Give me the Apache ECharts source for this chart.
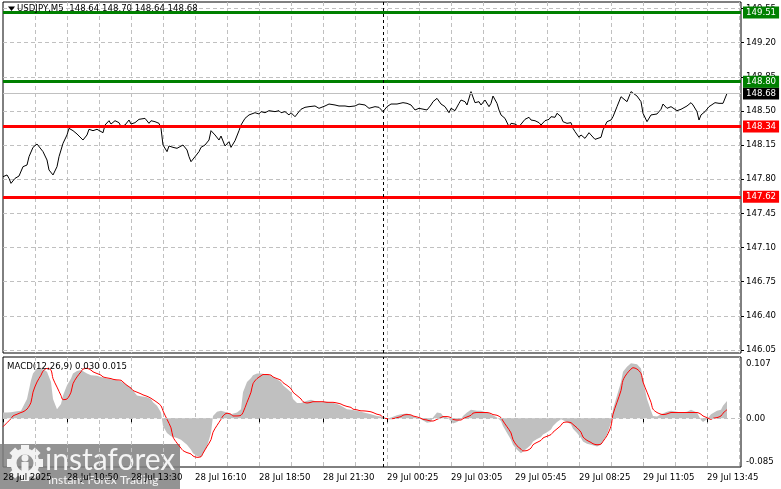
<!DOCTYPE html>
<html><head><meta charset="utf-8">
<script src="https://cdn.jsdelivr.net/npm/echarts@6/dist/echarts.min.js"></script>
<style>html,body{margin:0;padding:0;background:#fff}#c{width:781px;height:489px}</style>
</head><body><div id="c"></div>
<script>
const FONT = "'DejaVu Sans', Tahoma, sans-serif";
const FS = 8.6;
const barCount = 370;
const tickLabels = ['28 Jul 2025','28 Jul 10:50','28 Jul 13:30','28 Jul 16:10','28 Jul 18:50','28 Jul 21:30',
  '29 Jul 00:25','29 Jul 03:05','29 Jul 05:45','29 Jul 08:25','29 Jul 11:05','29 Jul 13:45'];
const titleText = 'USDJPY,M5  148.64 148.70 148.64 148.68';
const macdText = 'MACD(12,26,9) 0.030 0.015';
const resistanceLevels = [149.51, 148.80];
const supportLevels = [148.34, 147.62];
const lastPrice = 148.68;
const separatorBar = 190;
const priceTickMin = 146.05, priceTickMax = 149.55, priceTickStep = 0.35;
const macdMin = -0.085, macdMax = 0.107;

const priceData = [[0,147.826],[2,147.844],[3,147.809],[4,147.758],[6,147.809],[8,147.833],[9,147.826],[10,147.929],[12,147.946],[13,148.031],[15,148.127],[17,148.161],[18,148.141],[20,148.083],[22,147.997],[23,147.895],[25,147.844],[27,147.929],[28,148.031],[30,148.168],[32,148.254],[33,148.322],[35,148.298],[37,148.264],[38,148.243],[40,148.202],[42,148.254],[43,148.312],[45,148.298],[47,148.312],[48,148.322],[50,148.277],[51,148.356],[53,148.400],[54,148.366],[56,148.400],[58,148.380],[59,148.339],[61,148.356],[63,148.407],[64,148.366],[66,148.380],[68,148.414],[69,148.407],[71,148.424],[73,148.373],[74,148.400],[76,148.390],[78,148.373],[79,148.322],[80,148.151],[82,148.083],[83,148.141],[85,148.127],[87,148.117],[88,148.127],[90,148.151],[92,148.100],[93,148.031],[94,147.980],[96,148.031],[98,148.083],[99,148.127],[101,148.151],[103,148.202],[104,148.298],[106,148.254],[108,148.202],[109,148.243],[111,148.141],[113,148.185],[114,148.127],[116,148.195],[118,148.298],[119,148.356],[121,148.424],[123,148.459],[124,148.469],[126,148.482],[128,148.469],[129,148.493],[131,148.482],[133,148.503],[134,148.493],[136,148.493],[138,148.503],[139,148.482],[141,148.493],[143,148.459],[144,148.482],[146,148.441],[148,148.493],[149,148.517],[151,148.537],[153,148.544],[154,148.537],[156,148.551],[158,148.527],[159,148.544],[161,148.551],[163,148.571],[164,148.578],[166,148.561],[168,148.551],[169,148.544],[171,148.551],[173,148.544],[174,148.561],[176,148.551],[178,148.571],[179,148.578],[181,148.561],[183,148.527],[184,148.537],[186,148.544],[188,148.537],[189,148.517],[190,148.493],[192,148.544],[193,148.551],
[194,148.571],[197,148.571],[198,148.578],[200,148.585],[202,148.578],[204,148.561],[206,148.510],[208,148.527],[209,148.517],[212,148.510],[214,148.561],[215,148.595],[217,148.629],[218,148.640],[219,148.571],[221,148.544],[223,148.482],[224,148.527],[226,148.503],[228,148.578],[229,148.612],[231,148.595],[232,148.561],[233,148.544],[234,148.698],[236,148.585],[238,148.595],[239,148.561],[241,148.612],[243,148.544],[244,148.578],[245,148.653],[247,148.578],[248,148.510],[249,148.459],[251,148.424],[253,148.339],[254,148.373],[256,148.366],[258,148.339],[259,148.356],[261,148.414],[263,148.435],[264,148.407],[266,148.400],[268,148.380],[269,148.356],[271,148.400],[273,148.414],[274,148.441],[276,148.435],[277,148.476],[279,148.441],[280,148.390],[282,148.373],[284,148.380],[285,148.322],[286,148.288],[288,148.230],[289,148.254],[291,148.219],[293,148.277],[294,148.254],[296,148.209],[297,148.195],[299,148.230],[300,148.305],[302,148.390],[304,148.407],[305,148.441],[307,148.544],[309,148.646],[310,148.664],[312,148.595],[314,148.698],[315,148.681],[317,148.653],[319,148.595],[320,148.476],[322,148.390],[324,148.459],[325,148.469],[327,148.469],[329,148.517],[330,148.571],[332,148.527],[334,148.544],[335,148.561],[337,148.503],[339,148.517],[340,148.503],[342,148.551],[344,148.585],[345,148.561],[347,148.493],[348,148.407],[349,148.459],[351,148.493],[353,148.544],[354,148.561],[356,148.585],[358,148.578],[359,148.585],[360,148.578],[362,148.680]];

const macdHist = [[0,0.0101],[2,0.0101],[4,0.0107],[5,0.0113],[7,0.0124],[9,0.0130],[10,0.0160],[12,0.0338],[14,0.0664],[15,0.0782],[17,0.0871],[19,0.0883],[20,0.0859],[22,0.0812],[24,0.0634],[25,0.0338],[27,0.0160],[28,0.0190],[29,0.0249],[30,0.0397],[32,0.0575],[34,0.0693],[35,0.0782],[37,0.0824],[39,0.0841],[40,0.0824],[42,0.0782],[44,0.0753],[45,0.0764],[47,0.0741],[49,0.0723],[50,0.0705],[52,0.0693],[54,0.0681],[55,0.0664],[57,0.0664],[59,0.0646],[60,0.0634],[62,0.0575],[64,0.0527],[65,0.0486],[67,0.0397],[69,0.0385],[70,0.0397],[72,0.0367],[74,0.0338],[75,0.0279],[77,0.0219],[79,0.0101],[80,-0.0136],[82,-0.0255],[84,-0.0314],[85,-0.0344],[87,-0.0344],[89,-0.0373],[90,-0.0403],[92,-0.0462],[94,-0.0551],[95,-0.0610],[97,-0.0658],[99,-0.0681],[100,-0.0670],[102,-0.0492],[104,-0.0255],[105,0.0041],[107,0.0113],[109,0.0130],[110,0.0148],[112,0.0101],[114,0.0071],[115,0.0071],[117,0.0101],[119,0.0160],[120,0.0456],[122,0.0634],[124,0.0705],[125,0.0753],[127,0.0782],[129,0.0782],[130,0.0776],[132,0.0764],[134,0.0741],[135,0.0723],[137,0.0681],[139,0.0634],[140,0.0575],[142,0.0516],[144,0.0456],[145,0.0338],[147,0.0267],[149,0.0267],[150,0.0279],[152,0.0308],[154,0.0326],[155,0.0308],[157,0.0290],[159,0.0279],[160,0.0279],[162,0.0290],[164,0.0279],[165,0.0267],[167,0.0249],[169,0.0219],[170,0.0190],[172,0.0160],[174,0.0148],[175,0.0130],[177,0.0130],[179,0.0113],[180,0.0101],[182,0.0089],[184,0.0071],[185,0.0053],[187,0.0041],
[189,0.0030],[190,0.0012],[192,-0.0006],[194,0.0012],[195,0.0041],[197,0.0053],[199,0.0071],[200,0.0089],[202,0.0083],[204,0.0053],[205,0.0041],[207,0.0012],[209,-0.0018],[210,-0.0047],[212,-0.0077],[214,-0.0065],[215,0.0012],[217,0.0101],[219,0.0089],[220,0.0041],[222,0.0012],[224,-0.0047],[225,-0.0089],[227,-0.0065],[229,-0.0018],[230,0.0041],[232,0.0101],[234,0.0148],[235,0.0148],[237,0.0130],[239,0.0130],[240,0.0113],[242,0.0101],[244,0.0071],[245,0.0053],[247,0.0012],[249,-0.0047],[250,-0.0136],[252,-0.0255],[254,-0.0373],[255,-0.0462],[257,-0.0551],[259,-0.0610],[260,-0.0581],[262,-0.0521],[264,-0.0462],[265,-0.0403],[267,-0.0361],[269,-0.0326],[270,-0.0284],[272,-0.0243],[274,-0.0196],[275,-0.0136],[277,-0.0065],[279,-0.0018],[280,-0.0018],[282,-0.0065],[284,-0.0107],[285,-0.0184],[287,-0.0255],[289,-0.0344],[290,-0.0403],[292,-0.0444],[294,-0.0462],[295,-0.0480],[297,-0.0492],[299,-0.0462],[300,-0.0403],[302,-0.0284],[304,-0.0077],[305,0.0160],[307,0.0397],[309,0.0634],[310,0.0812],[312,0.0901],[314,0.0960],[315,0.0978],[317,0.0942],[319,0.0871],[320,0.0664],[322,0.0338],[324,0.0130],[325,0.0041],[327,0.0030],[329,0.0071],[330,0.0101],[332,0.0113],[334,0.0130],[335,0.0130],[337,0.0113],[339,0.0101],[340,0.0101],[342,0.0113],[344,0.0148],[345,0.0148],[347,0.0101],[349,-0.0030],[350,-0.0065],[352,-0.0018],[354,0.0071],[355,0.0101],[357,0.0130],[359,0.0148],[360,0.0219],[362,0.0300]];

const macdSignal = [[0,-0.0148],[2,-0.0077],[4,-0.0006],[5,0.0041],[7,0.0071],[9,0.0101],[10,0.0113],[12,0.0160],[14,0.0279],[15,0.0456],[17,0.0634],[19,0.0753],[20,0.0824],[22,0.0871],[24,0.0841],[25,0.0693],[27,0.0545],[29,0.0397],[30,0.0326],[32,0.0338],[34,0.0456],[35,0.0604],[37,0.0723],[39,0.0812],[40,0.0859],[42,0.0871],[44,0.0841],[45,0.0812],[47,0.0782],[49,0.0753],[50,0.0723],[52,0.0705],[54,0.0693],[55,0.0681],[57,0.0670],[59,0.0664],[60,0.0634],[62,0.0575],[64,0.0527],[65,0.0486],[67,0.0456],[69,0.0427],[70,0.0409],[72,0.0385],[74,0.0350],[75,0.0326],[77,0.0279],[79,0.0219],[80,0.0130],[82,-0.0018],[84,-0.0166],[85,-0.0326],[87,-0.0433],[89,-0.0521],[90,-0.0563],[92,-0.0599],[94,-0.0622],[95,-0.0658],[97,-0.0681],[99,-0.0670],[100,-0.0610],[102,-0.0492],[104,-0.0373],[105,-0.0243],[107,-0.0124],[109,-0.0018],[110,0.0041],[112,0.0089],[114,0.0071],[115,0.0041],[117,0.0041],[119,0.0053],[120,0.0101],[122,0.0279],[124,0.0456],[125,0.0604],[127,0.0693],[129,0.0741],[130,0.0764],[132,0.0764],[134,0.0753],[135,0.0723],[137,0.0693],[139,0.0664],[140,0.0622],[142,0.0575],[144,0.0516],[145,0.0456],[147,0.0397],[149,0.0338],[150,0.0290],[152,0.0267],[154,0.0279],[155,0.0290],[157,0.0290],[159,0.0290],[160,0.0290],[162,0.0279],[164,0.0279],[165,0.0279],[167,0.0267],[169,0.0249],[170,0.0231],[172,0.0207],[174,0.0190],[175,0.0160],[177,0.0148],[179,0.0130],[180,0.0130],[182,0.0124],[184,0.0113],[185,0.0101],[187,0.0071],
[189,0.0053],[190,0.0012],[192,-0.0006],[194,-0.0006],[195,-0.0006],[197,0.0012],[199,0.0030],[200,0.0053],[202,0.0065],[204,0.0059],[205,0.0041],[207,0.0024],[209,0],[210,-0.0018],[212,-0.0030],[214,-0.0047],[215,-0.0047],[217,-0.0018],[219,0.0012],[220,0.0030],[222,0.0030],[224,0.0012],[225,-0.0018],[227,-0.0030],[229,-0.0030],[230,-0.0006],[232,0.0024],[234,0.0053],[235,0.0089],[237,0.0101],[239,0.0101],[240,0.0101],[242,0.0101],[244,0.0083],[245,0.0065],[247,0.0053],[249,0.0012],[250,-0.0047],[252,-0.0148],[254,-0.0255],[255,-0.0373],[257,-0.0480],[259,-0.0539],[260,-0.0569],[262,-0.0563],[264,-0.0521],[265,-0.0462],[267,-0.0421],[269,-0.0385],[270,-0.0344],[272,-0.0314],[274,-0.0284],[275,-0.0243],[277,-0.0184],[279,-0.0124],[280,-0.0077],[282,-0.0065],[284,-0.0077],[285,-0.0107],[287,-0.0166],[289,-0.0243],[290,-0.0326],[292,-0.0385],[294,-0.0421],[295,-0.0444],[297,-0.0462],[299,-0.0450],[300,-0.0403],[302,-0.0302],[304,-0.0136],[305,0.0071],[307,0.0279],[309,0.0486],[310,0.0664],[312,0.0782],[314,0.0859],[315,0.0883],[317,0.0859],[319,0.0782],[320,0.0634],[322,0.0456],[324,0.0279],[325,0.0160],[327,0.0101],[329,0.0071],[330,0.0065],[332,0.0077],[334,0.0101],[335,0.0101],[337,0.0101],[339,0.0101],[340,0.0101],[342,0.0101],[344,0.0101],[345,0.0101],[347,0.0101],[349,0.0071],[350,0.0041],[352,0.0012],[354,-0.0018],[355,0],[357,0.0012],[359,0.0041],[360,0.0089],[362,0.0150]];

const categories = Array.from({length: barCount}, (_, i) => String(i));
const GRID_DASH = {color: '#c0c0c0', width: 1, type: [4, 3]};
const vSplit = {show: true, interval: (i) => i > 0 && i % 16 === 0, lineStyle: GRID_DASH};

function levelLine(v, color, width) {
  return {
    yAxis: v,
    lineStyle: {color: color, width: width, type: 'solid'},
    label: {show: true, position: 'end', distance: 2, formatter: (p) => p.value.toFixed(2),
      backgroundColor: color === '#c0c0c0' ? '#000' : color, color: '#fff',
      fontSize: FS, fontFamily: FONT, padding: [2, 3, 1, 3]}
  };
}
const sepLine = {xAxis: separatorBar, lineStyle: {color: '#000', width: 1, type: [3, 3]}, label: {show: false}};

const chart = echarts.init(document.getElementById('c'), null, {renderer: 'canvas'});

const gearTeeth = [];
for (let k = 0; k < 8; k++) {
  gearTeeth.push({type: 'rect', x: 25, y: 19, rotation: k * Math.PI / 4,
    shape: {x: -4, y: -18, width: 8, height: 8}, style: {fill: '#f2f2f2'}});
}

chart.setOption({
  animation: false,
  backgroundColor: '#fff',
  title: [
    {text: titleText, left: 17, top: 4, padding: 0,
     textStyle: {fontSize: FS, fontWeight: 'normal', color: '#000', fontFamily: FONT}},
    {text: macdText, left: 7, top: 362, padding: 0,
     textStyle: {fontSize: FS, fontWeight: 'normal', color: '#000', fontFamily: FONT}}
  ],
  grid: [
    {left: 3, right: 40, top: 2, bottom: 136, show: true, borderColor: '#000', borderWidth: 1, backgroundColor: 'transparent'},
    {left: 3, right: 40, top: 8.5, bottom: 139, show: false},
    {left: 3, right: 40, top: 357, bottom: 22, show: true, borderColor: '#000', borderWidth: 1, backgroundColor: 'transparent'}
  ],
  xAxis: [
    {gridIndex: 0, type: 'category', data: categories, boundaryGap: false,
     axisLine: {show: false}, axisTick: {show: false}, axisLabel: {show: false}, splitLine: vSplit},
    {gridIndex: 1, type: 'category', data: categories, boundaryGap: false, show: false},
    {gridIndex: 2, type: 'category', data: categories, boundaryGap: false,
     axisLine: {show: false},
     axisTick: {show: true, interval: (i) => i % 32 === 0, length: 4, lineStyle: {color: '#000'}},
     axisLabel: {show: true, interval: (i) => i % 32 === 0, formatter: (v, i) => tickLabels[Math.round(i / 32)] || '',
       align: 'left', margin: 6, fontSize: FS, fontFamily: FONT, color: '#000'},
     splitLine: vSplit}
  ],
  yAxis: [
    {gridIndex: 0, type: 'value', min: 146.0193, max: 149.6166, show: false},
    {gridIndex: 1, type: 'value', position: 'right', min: priceTickMin, max: priceTickMax, interval: priceTickStep,
     axisLine: {show: false},
     axisTick: {show: true, length: 3, lineStyle: {color: '#000'}},
     axisLabel: {formatter: (v) => v.toFixed(2), margin: 5, fontSize: FS, fontFamily: FONT, color: '#000',
       showMinLabel: true, showMaxLabel: true},
     splitLine: {show: true, lineStyle: GRID_DASH}},
    {gridIndex: 2, type: 'value', position: 'right', min: macdMin, max: macdMax,
     axisLine: {show: false}, axisTick: {show: false}, splitLine: {show: false},
     axisLabel: {margin: 5, fontSize: FS, fontFamily: FONT, color: '#000', showMinLabel: true, showMaxLabel: true,
       formatter: (v) => {
         if (Math.abs(v - macdMax) < 1e-7) return '{t|' + macdMax.toFixed(3) + '}';
         if (Math.abs(v) < 1e-9) return '0.00';
         if (Math.abs(v - macdMin) < 1e-7) return '{b|' + macdMin.toFixed(3) + '}';
         return '';
       },
       rich: {
         t: {padding: [13, 0, 0, 0], fontSize: FS, fontFamily: FONT, color: '#000'},
         b: {padding: [0, 0, 11, 0], fontSize: FS, fontFamily: FONT, color: '#000'}
       }}}
  ],
  series: [
    {type: 'line', name: 'USDJPY', xAxisIndex: 0, yAxisIndex: 0, data: priceData,
     showSymbol: false, symbol: 'none', lineStyle: {color: '#000', width: 1}, z: 3,
     markLine: {silent: true, symbol: 'none', animation: false,
       data: [
         levelLine(lastPrice, '#c0c0c0', 1),
         levelLine(resistanceLevels[0], '#008000', 3),
         levelLine(resistanceLevels[1], '#008000', 3),
         levelLine(supportLevels[0], '#ff0000', 3),
         levelLine(supportLevels[1], '#ff0000', 3),
         sepLine
       ]}},
    {type: 'line', name: 'MACD', xAxisIndex: 2, yAxisIndex: 2, data: macdHist,
     showSymbol: false, symbol: 'none', lineStyle: {width: 0, opacity: 0},
     areaStyle: {color: '#c0c0c0', opacity: 1}, z: 2,
     markLine: {silent: true, symbol: 'none', animation: false,
       data: [
         {yAxis: 0, lineStyle: {color: '#c0c0c0', width: 1, type: [4, 3]}, label: {show: false}},
         sepLine
       ]}},
    {type: 'line', name: 'Signal', xAxisIndex: 2, yAxisIndex: 2, data: macdSignal,
     showSymbol: false, symbol: 'none', smooth: 0.3, lineStyle: {color: '#ff0000', width: 1}, z: 4}
  ],
  graphic: [
    {type: 'polygon', z: 50, shape: {points: [[8, 6.5], [15, 6.5], [11.5, 11]]}, style: {fill: '#000'}},
    {type: 'group', left: 0, top: 444, z: 100, children: [
      {type: 'rect', shape: {x: 0, y: 0, width: 180, height: 45}, style: {fill: 'rgba(128,128,128,0.85)'}},
      {type: 'circle', shape: {cx: 25, cy: 19, r: 11.5}, style: {fill: 'none', stroke: '#f2f2f2', lineWidth: 6}},
      ...gearTeeth,
      {type: 'circle', shape: {cx: 25, cy: 14, r: 3.5}, style: {fill: '#f2f2f2'}},
      {type: 'rect', shape: {x: 21.5, y: 18, width: 7, height: 13}, style: {fill: '#f2f2f2'}},
      {type: 'text', style: {text: 'instaforex', x: 45, y: 16, verticalAlign: 'middle', align: 'left',
        font: '30px Lato, "Open Sans", sans-serif', fill: '#f4f4f4'}},
      {type: 'text', style: {text: 'Instant Forex Trading', x: 48, y: 36, verticalAlign: 'middle', align: 'left',
        font: '12px Lato, "Open Sans", sans-serif', fill: '#f4f4f4'}}
    ]}
  ]
});
</script>
</body></html>
